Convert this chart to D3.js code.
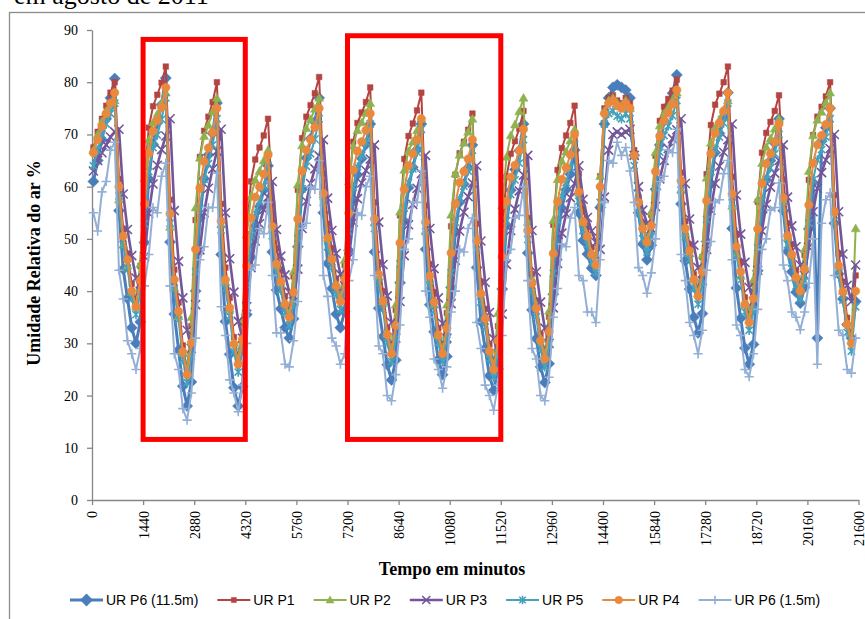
<!DOCTYPE html>
<html>
<head>
<meta charset="utf-8">
<script src="https://cdn.jsdelivr.net/npm/d3@7"></script>
<style>
  html, body { margin: 0; padding: 0; background: #fff; overflow: hidden; }
  svg { display: block; }
  .eixo text { font-family: "Times New Roman", "Liberation Serif", serif; font-size: 14px; fill: #000; }
</style>
</head>
<body>
<svg id="chart" width="865" height="619"></svg>
<script>
// leituras a cada 120 min, a primeira aos 40 min
var inicio = 40;
var passo = 120;

var urP6_115 = [61,65,69,73,77,80.7,55.4,44.2,38.6,33,30,34.1,
  49.3,61.5,68.1,72.2,75.7,80.8,49.4,35.6,28.7,21.8,18,22.6,
  40,54,61.5,66.1,70.2,76,47,34.2,27.9,21.5,18,21.7,
  35.5,46.5,52.5,56.2,59.4,64,47.5,40.2,36.6,33,31,34.7,
  48.5,59.5,65.5,69.2,72.4,77,55,45.3,40.5,35.6,33,36.1,
  47.8,57.2,62.3,65.4,68.1,72,47.5,36.7,31.3,25.9,23,26.8,
  41.6,53.4,59.8,63.7,67.1,72,48,37.4,32.2,26.9,24,27.5,
  40.7,51.3,57,60.5,63.6,68,44.5,34.2,29,23.8,21,25.1,
  40.4,52.6,59.3,63.3,66.9,72,47.3,36.4,30.9,25.5,22.5,26.1,
  39.4,50.1,55.9,59.4,62.4,67,55,49.7,47.1,44.4,43,56,
  72,77,79,79.5,79,78.5,77,66,55,49,46,48.8,
  59.5,68,72.6,75.4,77.9,81.4,56.7,45.8,40.4,35,32,35.7,
  49.5,60.5,66.5,70.2,73.4,78,52,40.6,34.8,29.1,26,29.8,
  43.9,55.1,61.3,65,68.3,73,55.4,47.6,43.7,39.8,37.7,40.7,
  51.9,60.8,31,68.7,71.3,75,53,43.3,38.5,33.6,31,38];

var urP1 = [67.5,70.5,73,75.5,78,80,61.5,51.9,47.2,41.4,38,44.8,
  61.4,71.3,75.4,77.6,79.9,83,57.5,44.1,37.8,29.6,25,33.3,
  53.6,65.7,70.7,73.4,76.2,80,56.7,44.5,38.7,31.2,27,33.9,
  50.9,61,65.2,67.5,69.8,73,56.7,48.2,44.1,39,36,42.8,
  59.4,69.3,73.4,75.6,77.9,81,62.5,52.9,48.2,42.4,39,45,
  59.8,68.6,72.2,74.2,76.2,79,57,45.5,40,33,29,36.4,
  54.5,65.3,69.7,72.1,74.6,78,56.4,45.2,39.8,32.9,29,35.8,
  52.4,62.3,66.4,68.6,70.9,74,52.9,41.8,36.6,29.8,26,33.3,
  51.2,61.9,66.3,68.7,71.1,74.5,54,43.3,38.2,31.7,28,35.1,
  52.7,63.2,67.4,69.8,72.2,75.5,62.5,55.7,52.5,48.4,46,62,
  75,77,77.5,76.5,76,77,76,67,58,53,50,54.6,
  65.9,72.6,75.3,76.8,78.4,80.5,62.7,53.4,48.9,43.2,40,46.5,
  62.4,71.8,75.7,77.8,80,83,61.9,50.8,45.6,38.8,35,41.4,
  57.1,66.5,70.3,72.4,74.5,77.5,61.4,53,49,43.9,41,46.9,
  61.3,69.9,73.4,75.3,77.3,80,58.4,47.2,41.8,34.9,31,43];

var urP2 = [67,70,72.5,74.5,75.5,76.5,57.5,48.9,44.9,39.8,37,45.2,
  61.6,69,72.3,73.9,76,78,52.3,40.6,35.2,28.2,24.5,35,
  56,65.5,69.7,71.8,74.4,77,52.8,41.7,36.6,30,26.5,34.6,
  50.8,58.1,61.3,63,65,67,51.9,45,41.8,37.7,35.5,43.8,
  60.4,67.9,71.2,72.9,74.9,77,58.5,50.1,46.2,41.2,38.5,46,
  61,67.8,70.8,72.3,74.1,76,53.2,42.8,38,31.8,28.5,37.4,
  55.2,63.2,66.8,68.6,70.8,73,51.6,41.9,37.4,31.6,28.5,37.4,
  54.6,62.5,66.1,68.4,70.5,73,50.2,39.8,35,28.8,25.5,35.8,
  56.4,65.7,69.8,71.9,74.4,77,53.2,42.4,37.4,31,27.5,36.2,
  53.6,61.4,64.9,66.7,68.8,71,58.8,53.2,50.6,47.3,45.5,62,
  74.5,76.5,77,76,75.5,76.5,75,66,57.5,52.5,49.5,55.2,
  66.6,71.7,74,75.2,76.6,78,59.5,51.1,47.2,42.2,39.5,46.9,
  61.7,68.4,71.3,72.8,74.7,76.5,56.3,47.1,42.9,37.4,34.5,42.2,
  57.6,64.5,67.6,69.2,71.1,73,57.4,50.3,47,42.8,40.5,48,
  63,69.8,72.8,74.3,76.1,78,55.2,44.8,40,33.8,30.5,52];

var urP3 = [63,65,66.5,68,69.5,70.5,71,58.6,51.8,46.8,42.5,40,
  46.6,54.9,60.5,64.1,67.1,69.7,73,55.4,45.7,38.7,32.5,29,
  37.4,47.9,55,59.7,63.4,66.8,71,55,46.2,39.8,34.2,31,
  37,44.5,49.6,52.9,55.6,58,61,51.8,46.7,43.1,39.8,38,
  44.2,52,57.2,60.6,63.4,65.9,69,57.8,51.6,47.2,43.2,41,
  46.4,53.2,57.7,60.7,63.1,65.3,68,53.2,45.1,39.1,34,31,
  38,46.8,52.7,56.6,59.7,62.5,66,52,44.3,38.7,33.8,31,
  37.6,45.9,51.5,55.1,58.1,60.7,64,49.6,41.7,35.9,30.9,28,
  35.6,45.1,51.6,55.7,59.2,62.2,66,51.6,43.7,37.9,32.9,30,
  36.8,45.3,51.1,54.8,57.9,60.6,64,57.6,54.1,51.5,49.3,48,
  58,67,70,70.5,70,70.5,71,66,60,55.5,53,52,
  56.2,61.5,65,67.3,69.2,70.9,73,60.6,53.8,48.8,44.5,42,
  48,55.5,60.6,63.9,66.6,69,72,58.4,50.9,45.5,40.7,38,
  44,51.5,56.6,59.9,62.6,65,68,58,52.5,48.5,45,43,
  48.4,55.2,59.7,62.7,65.1,67.3,70,55.2,47.1,41.1,38,45];

var urP5 = [64,67,70,72,74,76,58.2,48.9,44.4,38.7,35.5,39.7,
  52.9,62.9,67.5,69.9,72.9,77,53,40.5,34.5,26.9,22.5,27.6,
  43.7,55.8,61.4,64.4,68,73,51.7,40.5,35.2,28.4,24.5,28.5,
  41.1,50.6,54.9,57.3,60.1,64,50.6,43.6,40.2,35.9,33.5,37.5,
  50.1,59.6,63.9,66.3,69.1,73,57,48.5,44.5,39.4,36.5,40.1,
  51.4,59.9,63.8,66,68.5,72,52,41.5,36.5,30.1,26.5,31,
  45.2,55.9,60.8,63.4,66.6,71,51.4,41.2,36.3,30.1,26.5,30.6,
  43.5,53.2,57.7,60.1,63,67,47.9,37.9,33.1,27,23.5,28.1,
  42.6,53.5,58.5,61.3,64.5,69,49.9,39.9,35.1,29,25.5,29.8,
  43.4,53.6,58.2,60.8,63.8,68,57.2,51.6,48.9,45.5,43.5,57,
  72,74,74.5,73.5,73,74,73,64,55,50,47.5,50.4,
  59.7,66.6,69.8,71.6,73.6,76.5,59.3,50.4,46.1,40.6,37.5,41.4,
  53.7,62.9,67.1,69.5,72.2,76,56.9,46.9,42.1,36,32.5,36.3,
  48.3,57.3,61.4,63.6,66.3,70,56.1,48.9,45.4,41,38.5,42,
  53,61.3,65.1,67.1,69.5,73,53.4,43.2,38.3,32.1,28.5,37];

var urP4 = [66.5,69,71.5,74,76,78,60,50.5,46,40,37,42,
  56.7,66.4,70.6,72.7,75.2,79,54.8,42.2,36.1,28.4,24,30.1,
  48,59.7,64.8,67.4,70.4,75,53.4,42.2,36.8,29.9,26,30.8,
  44.8,54,58,60,62.4,66,52.4,45.2,41.8,37.5,35,39.8,
  53.8,63,67,69,71.4,75,58.7,50.2,46.1,41,38,42.3,
  54.9,63.2,66.8,68.6,70.8,74,53.8,43.2,38.1,31.7,28,33.4,
  49.2,59.5,64,66.3,69,73,53.2,42.9,37.9,31.6,28,32.9,
  47.3,56.7,60.8,62.9,65.3,69,49.6,39.5,34.7,28.5,25,30.5,
  46.6,57.2,61.8,64.1,66.9,71,51.6,41.5,36.7,30.5,27,32.2,
  47.2,57.1,61.4,63.6,66.1,70,59,53.3,50.5,47,45,60,
  74,76,76.5,75.5,75,76,75,66,57,52,49.4,52.5,
  62.9,69.7,72.6,74.1,75.8,78.5,61.1,52,47.7,42.2,39,43.7,
  57.3,66.3,70.2,72.2,74.5,78,58.6,48.5,43.7,37.5,34,38.6,
  51.9,60.6,64.4,66.3,68.6,72,57.9,50.6,47,42.6,40,44.2,
  56.5,64.5,68,69.8,71.9,75,55.2,44.9,39.9,33.6,30,40];

var urP6_15 = [55,51.5,59,61,67,68.5,44,38.5,30.5,28,25,29,
  41,47,56,55,62,64.5,41,28,25,17.5,15.3,20.5,
  31,46,48.5,56,56,62.6,37,31.5,23,20.5,16.9,22,
  30,44,45,52,51,57,43,32,32,26,25.5,30.5,
  38,52,53,60,59.5,65,43,39,31,29.5,26,28,
  42,46,55,54.5,60,62,43,29.5,28,20,19,24,
  33.5,48,50,57,57,63,40,35,27,25,21.4,25.5,
  36,40,48,47.5,52,54,34,29,22,20,17.2,22,
  31.5,46,48,54,54.5,60,42,29,27,20,19,23.5,
  35,40.5,49,48.5,54,56,43,42,36,36,34,46,
  57,65,64.5,68.5,66,67.5,63,57,44.5,43,39.6,43.5,
  50,61,62,67,66.5,71,47,42,34,31.5,28,32.5,
  44,49.5,57,57.5,62.5,65,46,33.5,31.5,25,23.6,28,
  36.5,48,50,55.5,56,60.7,45,42,36,35,32.6,36,
  41.5,50,26,53,57.5,58.8,43,32.5,31.5,25,24.3,31];

var nomes = ["UR P6 (11.5m)", "UR P1", "UR P2", "UR P3", "UR P5", "UR P4", "UR P6 (1.5m)"];
var xTicks = [0,1440,2880,4320,5760,7200,8640,10080,11520,12960,14400,15840,17280,18720,20160,21600];
var yTicks = [0,10,20,30,40,50,60,70,80,90];
// retangulos vermelhos de destaque (em minutos / %)
var destaques = [[1440, 4320, 11.6, 88.2], [7200, 11520, 11.6, 88.9]];

var series = [
  { nome: nomes[0], valores: urP6_115, cor: "#4a7ebb", marca: "diamond", larg: 3 },
  { nome: nomes[1], valores: urP1, cor: "#b44441", marca: "square", larg: 2 },
  { nome: nomes[2], valores: urP2, cor: "#90b24e", marca: "triangle", larg: 2 },
  { nome: nomes[3], valores: urP3, cor: "#73569a", marca: "x", larg: 2.6 },
  { nome: nomes[4], valores: urP5, cor: "#45a2bc", marca: "star", larg: 2 },
  { nome: nomes[5], valores: urP4, cor: "#e8893e", marca: "circle", larg: 2 },
  { nome: nomes[6], valores: urP6_15, cor: "#93afd6", marca: "plus", larg: 2 }
];

var svg = d3.select("#chart");
var x = d3.scaleLinear().domain([0, 21600]).range([92, 858.5]);
var y = d3.scaleLinear().domain([0, 90]).range([500, 30]);

function marcaPath(tipo, k) {
  var r;
  if (tipo === "diamond") { r = 5.6 * k; return "M0," + (-r) + "L" + r + ",0L0," + r + "L" + (-r) + ",0Z"; }
  if (tipo === "square") { r = 2.8 * k; return "M" + (-r) + "," + (-r) + "h" + 2 * r + "v" + 2 * r + "h" + (-2 * r) + "Z"; }
  if (tipo === "triangle") { r = 4.5 * k; return "M0," + (-r) + "L" + r + "," + 0.75 * r + "L" + (-r) + "," + 0.75 * r + "Z"; }
  if (tipo === "x") { r = 4.5 * k; return "M" + (-r) + "," + (-r) + "L" + r + "," + r + "M" + (-r) + "," + r + "L" + r + "," + (-r); }
  if (tipo === "star") { r = 3.6 * k; return "M" + (-r) + "," + (-r) + "L" + r + "," + r + "M" + (-r) + "," + r + "L" + r + "," + (-r) + "M0," + (-r * 1.3) + "V" + r * 1.3; }
  if (tipo === "circle") { r = 4.2 * k; return "M" + (-r) + ",0A" + r + "," + r + " 0 1,0 " + r + ",0A" + r + "," + r + " 0 1,0 " + (-r) + ",0Z"; }
  if (tipo === "plus") { r = 4.6 * k; return "M" + (-r) + ",0H" + r + "M0," + (-r) + "V" + r; }
}
function cheia(tipo) {
  return tipo === "diamond" || tipo === "square" || tipo === "triangle" || tipo === "circle";
}

// moldura do grafico e titulo cortado
svg.append("rect").attr("width", 865).attr("height", 619).attr("fill", "#fff");
svg.append("text")
  .attr("x", 14).attr("y", 4)
  .style("font-family", '"Times New Roman", "Liberation Serif", serif')
  .style("font-size", "26px")
  .text("em agosto de 2011");
svg.append("rect")
  .attr("x", 9.5).attr("y", 12.5).attr("width", 900).attr("height", 700)
  .attr("fill", "none").attr("stroke", "#8c8c8c").attr("stroke-width", 1.3);

// eixos
var gy = svg.append("g").attr("class", "eixo")
  .attr("transform", "translate(" + x(0) + ",0)")
  .call(d3.axisLeft(y).tickValues(yTicks).tickSize(5).tickSizeOuter(0).tickPadding(9));
var gx = svg.append("g").attr("class", "eixo")
  .attr("transform", "translate(0," + y(0) + ")")
  .call(d3.axisBottom(x).tickValues(xTicks).tickSize(5).tickSizeOuter(0).tickFormat(d3.format("d")));
gx.selectAll(".tick text")
  .attr("transform", "rotate(-90)")
  .attr("text-anchor", "end")
  .attr("x", -11).attr("y", 0).attr("dy", "0.35em");
svg.selectAll(".eixo .domain").attr("stroke", "#868686").attr("stroke-width", 1.3);
svg.selectAll(".eixo .tick line").attr("stroke", "#868686").attr("stroke-width", 1.3);

// series
var linha = d3.line()
  .x(function (d, i) { return x(inicio + i * passo); })
  .y(function (d) { return y(d); });

series.forEach(function (s) {
  var g = svg.append("g").attr("class", "serie");
  g.append("path")
    .attr("d", linha(s.valores))
    .attr("fill", "none")
    .attr("stroke", s.cor)
    .attr("stroke-width", s.larg)
    .attr("stroke-linejoin", "round");
  g.selectAll(".m")
    .data(s.valores)
    .enter()
    .append("path")
    .attr("class", "m")
    .attr("transform", function (d, i) { return "translate(" + x(inicio + i * passo) + "," + y(d) + ")"; })
    .attr("d", marcaPath(s.marca, 1))
    .attr("fill", cheia(s.marca) ? s.cor : "none")
    .attr("stroke", s.cor)
    .attr("stroke-width", cheia(s.marca) ? 0.5 : 1.6);
});

// destaques vermelhos
destaques.forEach(function (b) {
  svg.append("rect")
    .attr("x", x(b[0])).attr("y", y(b[3]))
    .attr("width", x(b[1]) - x(b[0]))
    .attr("height", y(b[2]) - y(b[3]))
    .attr("fill", "none")
    .attr("stroke", "#ff0000")
    .attr("stroke-width", 5);
});

// titulos dos eixos
svg.append("text")
  .attr("transform", "translate(40,263) rotate(-90)")
  .attr("text-anchor", "middle")
  .style("font-family", '"Times New Roman", "Liberation Serif", serif')
  .style("font-size", "18px").style("font-weight", "bold")
  .text("Umidade Relativa do ar %");
svg.append("text")
  .attr("x", 452).attr("y", 575)
  .attr("text-anchor", "middle")
  .style("font-family", '"Times New Roman", "Liberation Serif", serif')
  .style("font-size", "18px").style("font-weight", "bold")
  .text("Tempo em minutos");

// legenda
var leg = svg.append("g").attr("class", "legenda");
var lx = 70;
series.forEach(function (s) {
  var item = leg.append("g");
  item.append("line")
    .attr("x1", lx).attr("x2", lx + 33).attr("y1", 600).attr("y2", 600)
    .attr("stroke", s.cor).attr("stroke-width", s.larg);
  item.append("path")
    .attr("transform", "translate(" + (lx + 16.5) + ",600)")
    .attr("d", marcaPath(s.marca, s.marca === "diamond" ? 1.1 : 0.9))
    .attr("fill", cheia(s.marca) ? s.cor : "none")
    .attr("stroke", s.cor)
    .attr("stroke-width", cheia(s.marca) ? 0.5 : 1.6);
  var t = item.append("text")
    .attr("x", lx + 36).attr("y", 605)
    .style("font-family", '"Liberation Sans", Arial, sans-serif')
    .style("font-size", "14px")
    .text(s.nome);
  lx = lx + 36 + t.node().getComputedTextLength() + 19;
});
</script>
</body>
</html>
